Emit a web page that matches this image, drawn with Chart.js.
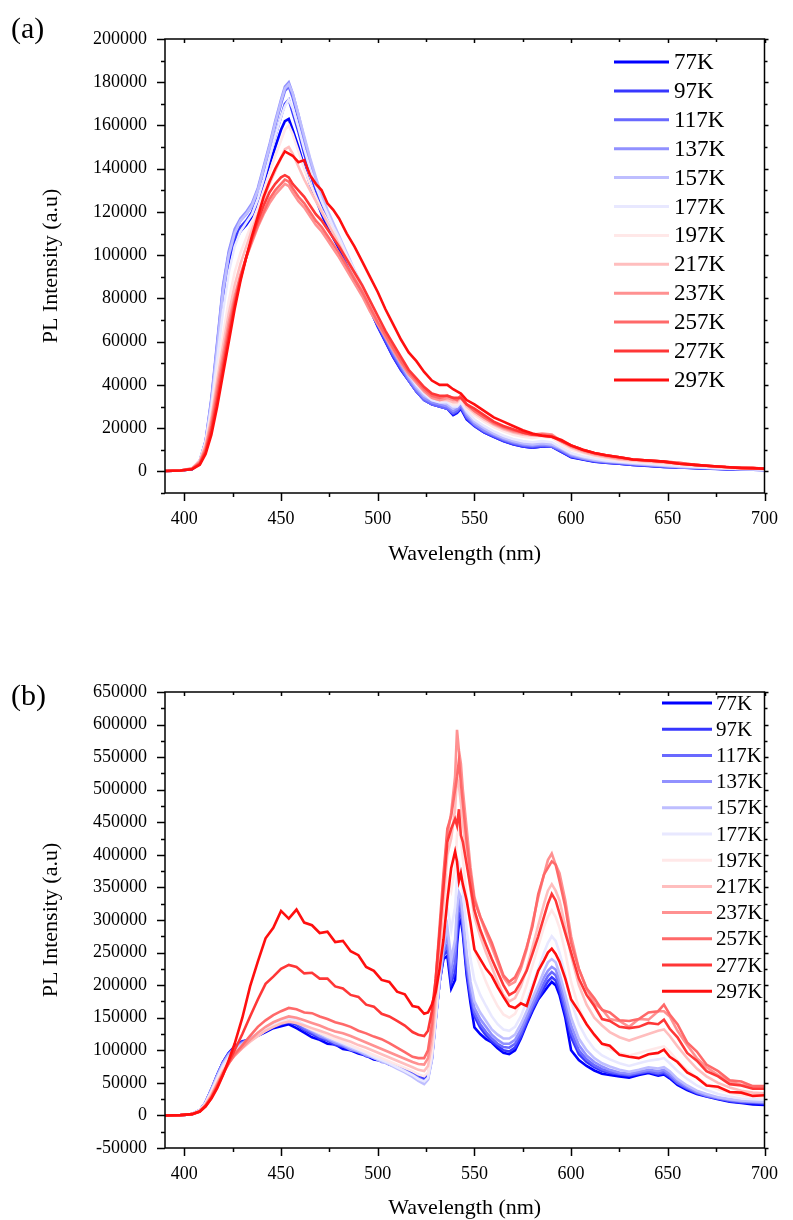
<!DOCTYPE html>
<html>
<head>
<meta charset="utf-8">
<title>PL spectra</title>
<script src="https://cdn.jsdelivr.net/npm/chart.js@4.4.1/dist/chart.umd.min.js"></script>
<style>
    html, body { margin: 0; padding: 0; background: #fff; }
    #page { position: relative; width: 793px; height: 1220px; overflow: hidden; }
    #page canvas { position: absolute; left: 0; }
    .tag { position: absolute; left: 11px; font: 30px/30px "Liberation Serif", "Times New Roman", serif; color: #000; }
</style>
</head>
<body>
<div id="page">
    <canvas id="chartA" width="793" height="610" style="top:0"></canvas>
    <canvas id="chartB" width="793" height="570" style="top:650px"></canvas>
    <div class="tag" style="top:13px">(a)</div>
    <div class="tag" style="top:680px">(b)</div>
</div>
<script>
// legend labels (temperature)
const tempLabels = ['77K', '97K', '117K', '137K', '157K', '177K', '197K', '217K', '237K', '257K', '277K', '297K'];

// x / y tick labels
const xTicks = [400, 450, 500, 550, 600, 650, 700];
const yTicksA = [0, 20000, 40000, 60000, 80000, 100000, 120000, 140000, 160000, 180000, 200000];
const yTicksB = [-50000, 0, 50000, 100000, 150000, 200000, 250000, 300000, 350000, 400000, 450000, 500000, 550000, 600000, 650000];

// ---- panel (a): wavelength (nm) and intensity (x1000 a.u.) ----
const wlA = [
    390, 398, 404, 408, 411, 414, 417, 420, 423, 426, 429, 432,
    435, 438, 441, 444, 447, 450, 452, 454, 456, 459, 462, 465,
    468, 471, 474, 477, 480, 484, 488, 492, 496, 500, 504, 508,
    512, 516, 520, 524, 528, 532, 536, 539, 541, 543, 546, 550,
    555, 560, 565, 570, 575, 580, 585, 590, 595, 600, 606, 612,
    618, 625, 632, 640, 648, 656, 664, 672, 680, 688, 694, 700
];
const a77 = [
    0.2, 0.4, 1, 4, 12, 30, 55, 80, 97, 106, 111, 114,
    118, 124, 133, 142, 150, 158, 162, 163, 158, 150, 141, 133,
    126, 119, 113, 108, 103, 96, 89, 82, 75, 67, 60, 53,
    47, 42, 37, 33, 31, 30, 29, 26, 27, 29, 24, 21,
    18, 16, 14, 12.5, 11.5, 11, 11.5, 11.5, 9, 6.5, 5.5, 4.5,
    4, 3.5, 3, 2.5, 2, 1.8, 1.5, 1.2, 1, 0.8, 0.8, 0.7
];
const a97 = [
    0.2, 0.4, 1.1, 4.5, 13, 32, 57, 83, 99, 108, 113, 116,
    120, 127, 137, 146, 155, 164, 170, 172, 166, 157, 147, 138,
    130, 122, 116, 110, 105, 97, 89, 82, 75, 67, 60, 53,
    47, 42, 37, 33, 31, 30, 29, 26.5, 27.5, 29.5, 24.5, 21,
    18, 16, 14, 12.5, 11.5, 11, 11.5, 11.5, 9, 6.8, 5.6, 4.6,
    4, 3.6, 3, 2.6, 2.1, 1.8, 1.6, 1.3, 1, 0.8, 0.8, 0.7
];
const a117 = [
    0.2, 0.4, 1.2, 5, 14, 33, 59, 85, 101, 111, 116, 119,
    123, 130, 140, 150, 160, 170, 176, 178, 173, 163, 152, 142,
    133, 125, 118, 112, 106, 98, 90, 83, 75, 68, 61, 54,
    48, 42, 37, 33, 31, 30, 29, 27, 28, 30, 25, 21.5,
    18.5, 16.5, 14.5, 13, 12, 11.5, 12, 11.5, 9.5, 7, 5.8, 4.8,
    4.2, 3.8, 3.2, 2.8, 2.3, 1.9, 1.7, 1.4, 1.1, 0.9, 0.9, 0.8
];
const a137 = [
    0.2, 0.4, 1.2, 5, 14, 34, 60, 86, 102, 112, 117, 120,
    124, 131, 141, 151, 162, 172, 178, 180, 175, 165, 154, 144,
    135, 127, 120, 114, 108, 100, 92, 85, 77, 69, 62, 55,
    49, 43, 38, 34, 32, 31, 30, 28, 29, 31, 26, 22,
    19, 17, 15, 13.5, 12.5, 12, 12.5, 12, 10, 7.5, 6, 5,
    4.5, 4, 3.5, 3, 2.5, 2, 1.8, 1.5, 1.2, 1, 1, 0.9
];
const a157 = [
    0.2, 0.4, 1.3, 5, 14, 32, 57, 83, 100, 110, 116, 119,
    123, 130, 140, 150, 161, 171, 177, 179, 175, 165, 155, 145,
    136, 128, 121, 115, 109, 101, 93, 86, 78, 70, 63, 56,
    50, 44, 39, 35, 33, 32, 31, 29, 30, 32, 27, 23,
    20, 17.5, 15.5, 14, 13, 12.5, 13, 12.5, 10.5, 8, 6.5, 5.3,
    4.7, 4.2, 3.6, 3.1, 2.6, 2.1, 1.9, 1.6, 1.3, 1.1, 1, 0.9
];
const a177 = [
    0.2, 0.4, 1.5, 5, 13, 30, 52, 74, 92, 104, 111, 115,
    119, 126, 135, 145, 155, 164, 169, 172, 168, 159, 149, 140,
    132, 125, 119, 113, 108, 100, 93, 86, 78, 71, 64, 57,
    51, 45, 40, 36, 33, 32, 32, 30, 30, 32, 28, 24,
    21, 18.5, 16.5, 15, 14, 13.5, 14, 13.5, 11, 8.5, 7, 6,
    5, 4.5, 4, 3.5, 3, 2.5, 2, 1.7, 1.4, 1.1, 1, 0.9
];
const a197 = [
    0.2, 0.4, 1.5, 5, 13, 27, 46, 63, 79, 92, 101, 108,
    115, 122, 130, 138, 146, 153, 158, 160, 156, 148, 140, 133,
    127, 121, 116, 111, 106, 99, 92, 85, 78, 71, 64, 58,
    52, 46, 41, 37, 34, 33, 33, 31, 31, 33, 29, 26,
    23, 20.5, 18.5, 17, 16, 15.5, 16, 15.5, 12.5, 10, 8.5, 7,
    6, 5, 4.5, 4, 3.5, 3, 2.5, 2, 1.6, 1.3, 1.2, 1
];
const a217 = [
    0.2, 0.4, 1.4, 5, 12, 25, 42, 58, 73, 86, 96, 104,
    112, 119, 126, 133, 139, 145, 149, 150, 147, 141, 135, 130,
    125, 120, 115, 110, 105, 98, 91, 84, 77, 70, 63, 57,
    51, 45, 41, 37, 34, 33, 33, 32, 32, 34, 30, 27,
    24, 21.5, 19.5, 18, 17, 16.5, 17, 16.5, 13.5, 11, 9, 7.5,
    6.5, 5.5, 5, 4.5, 4, 3.5, 2.8, 2.3, 1.8, 1.5, 1.4, 1.1
];
const a237 = [
    0.2, 0.4, 1.3, 4.5, 11, 23, 39, 54, 69, 81, 91, 99,
    106, 113, 119, 124, 128, 131, 133, 132, 129, 125, 122, 118,
    114, 111, 107, 103, 99, 93, 87, 81, 74, 68, 62, 56,
    50, 45, 41, 37, 34, 33, 34, 33, 33, 35, 31, 28,
    25, 22, 20, 18.5, 17.5, 17, 17.5, 17, 14, 11.5, 9.5, 8,
    7, 6, 5.5, 5, 4.5, 4, 3, 2.5, 2, 1.6, 1.5, 1.2
];
const a257 = [
    0.2, 0.4, 1.2, 4, 10, 21, 36, 51, 66, 79, 90, 99,
    107, 114, 120, 126, 130, 133, 135, 134, 131, 127, 124, 120,
    116, 113, 109, 105, 101, 95, 89, 83, 76, 69, 63, 57,
    51, 46, 42, 38, 35, 34, 35, 34, 33, 35, 31, 28,
    25, 22.5, 20.5, 19, 18, 17, 17, 16.5, 14, 12, 10, 8.5,
    7.5, 6.5, 5.5, 5, 4.5, 4, 3, 2.5, 2, 1.7, 1.5, 1.3
];
const a277 = [
    0.2, 0.4, 1.1, 3.5, 9, 19, 33, 48, 63, 77, 89, 99,
    108, 116, 123, 129, 133, 136, 137, 136, 133, 130, 127, 123,
    119, 116, 112, 108, 104, 98, 92, 86, 79, 72, 65, 59,
    53, 47, 43, 39, 36, 35, 35, 34, 34, 34, 31, 29,
    26, 23, 21, 19.5, 18, 17, 16.5, 16, 14, 12, 10, 8.5,
    7.5, 6.5, 5.5, 5, 4.5, 3.5, 3, 2.5, 2, 1.7, 1.5, 1.3
];
const a297 = [
    0.2, 0.4, 1.0, 3, 8, 17, 30, 45, 60, 75, 88, 99,
    109, 118, 127, 134, 140, 145, 148, 147, 146, 143, 144, 137,
    133, 130, 124, 121, 117, 110, 104, 97, 90, 83, 75, 68,
    61, 55, 51, 46, 42, 40, 40, 38, 37, 36, 33, 31,
    28, 25, 23, 21, 19, 17.5, 16.5, 16, 14.5, 12, 10, 8.5,
    7.5, 6.5, 5.5, 5, 4.5, 3.5, 3, 2.5, 2, 1.5, 1.5, 1.2
];

// ---- panel (b): wavelength (nm) and intensity (x1000 a.u.) ----
const wlB = [
    390, 398, 404, 408, 411, 414, 417, 420, 423, 426,
    430, 434, 438, 442, 446, 450, 454, 458, 462, 466,
    470, 474, 478, 482, 486, 490, 494, 498, 502, 506,
    510, 514, 518, 521, 524, 526, 528, 530, 532, 534,
    536, 538, 540, 541, 542, 543, 544, 546, 548, 550,
    553, 556, 559, 562, 565, 568, 571, 574, 577, 580,
    583, 586, 588, 590, 592, 594, 597, 600, 604, 608,
    612, 616, 620, 625, 630, 635, 640, 645, 648, 651,
    655, 660, 665, 670, 676, 682, 688, 694, 700
];
const b77 = [
    0, 0.5, 2, 8, 20, 40, 62, 82, 96, 106,
    114, 116, 122, 128, 134, 137, 140, 134, 127, 120,
    116, 110, 109, 102, 100, 95, 92, 86, 84, 78,
    75, 71, 66, 62, 58, 62, 90, 150, 205, 240,
    245, 195, 208, 262, 295, 300, 280, 215, 172, 135,
    125, 117, 112, 103, 96, 94, 100, 118, 140, 160,
    178, 190, 198, 205, 200, 185, 150, 100, 85, 76,
    69, 64, 62, 60, 58, 62, 65, 61, 63, 57,
    47, 39, 33, 29, 25, 21, 19, 17, 16
];
const b97 = [
    0, 0.5, 2, 8, 20, 40, 62, 82, 96, 105,
    113, 117, 124, 130, 136, 140, 143, 139, 131, 125,
    118, 115, 108, 106, 100, 98, 91, 89, 83, 81,
    76, 71, 65, 60, 56, 60, 88, 149, 205, 245,
    254, 204, 220, 275, 308, 312, 288, 222, 180, 152,
    135, 123, 114, 107, 100, 98, 104, 121, 143, 163,
    180, 196, 206, 212, 207, 192, 157, 120, 94, 82,
    74, 68, 65, 63, 61, 64, 67, 63, 65, 59,
    49, 41, 34, 30, 26, 22, 20, 19, 18
];
const b117 = [
    0, 0.5, 2, 8, 20, 40, 62, 81, 95, 104,
    112, 117, 124, 131, 137, 142, 146, 141, 133, 127,
    121, 116, 111, 106, 102, 97, 93, 88, 84, 80,
    75, 70, 63, 58, 53, 58, 87, 148, 205, 250,
    262, 212, 235, 290, 322, 316, 292, 230, 187, 158,
    140, 128, 118, 110, 105, 104, 110, 126, 147, 166,
    184, 203, 214, 220, 215, 200, 165, 128, 100, 86,
    77, 71, 67, 64, 62, 65, 68, 65, 67, 61,
    50, 42, 35, 30, 26, 23, 21, 20, 19
];
const b137 = [
    0, 0.5, 2, 8, 20, 40, 61, 80, 94, 103,
    111, 117, 125, 132, 138, 144, 149, 144, 136, 129,
    122, 118, 111, 108, 101, 99, 92, 89, 82, 80,
    74, 68, 61, 55, 50, 56, 86, 147, 205, 255,
    275, 225, 255, 305, 332, 325, 300, 240, 195, 165,
    148, 136, 124, 116, 110, 110, 116, 132, 152, 172,
    192, 212, 222, 228, 224, 208, 175, 138, 108, 92,
    82, 75, 70, 66, 64, 67, 70, 68, 70, 64,
    53, 44, 36, 31, 27, 24, 22, 21, 20
];
const b157 = [
    0, 0.5, 2, 8, 20, 39, 60, 79, 93, 102,
    110, 118, 126, 134, 140, 146, 151, 146, 138, 131,
    125, 119, 114, 109, 104, 99, 94, 88, 83, 78,
    72, 66, 59, 53, 48, 55, 85, 145, 205, 260,
    290, 240, 270, 320, 342, 335, 310, 250, 205, 175,
    158, 145, 132, 124, 118, 118, 124, 140, 160, 180,
    200, 222, 235, 240, 235, 218, 185, 150, 118, 100,
    88, 80, 75, 70, 67, 70, 74, 72, 74, 68,
    56, 46, 38, 33, 28, 25, 23, 22, 21
];
const b177 = [
    0, 0.5, 2, 8, 19, 37, 57, 76, 90, 99,
    108, 116, 124, 132, 139, 145, 150, 146, 139, 133,
    127, 121, 116, 111, 106, 101, 96, 90, 85, 80,
    74, 68, 62, 56, 52, 58, 90, 150, 215, 280,
    320, 285, 320, 365, 385, 372, 345, 285, 240, 208,
    185, 168, 152, 140, 132, 130, 136, 152, 175, 200,
    225, 250, 265, 275, 268, 250, 215, 175, 140, 118,
    102, 92, 86, 80, 76, 80, 84, 86, 88, 80,
    68, 56, 46, 39, 33, 29, 26, 25, 24
];
const b197 = [
    0, 0.5, 2, 8, 18, 35, 54, 72, 86, 95,
    105, 114, 122, 130, 137, 142, 146, 143, 137, 132,
    127, 122, 117, 113, 108, 103, 98, 93, 88, 83,
    78, 73, 68, 63, 60, 66, 98, 160, 230, 300,
    365, 345, 380, 430, 445, 425, 395, 335, 290, 255,
    228, 205, 185, 168, 155, 150, 156, 174, 200, 230,
    260, 290, 305, 315, 305, 288, 250, 205, 165, 140,
    122, 110, 102, 96, 92, 96, 100, 104, 106, 98,
    84, 70, 58, 48, 40, 35, 31, 29, 28
];
const b217 = [
    0, 0.5, 2, 7, 17, 32, 50, 68, 82, 92,
    103, 113, 122, 130, 136, 141, 144, 142, 138, 134,
    130, 126, 121, 117, 113, 108, 104, 99, 94, 89,
    84, 79, 74, 70, 68, 76, 110, 175, 250, 330,
    400, 425, 470, 520, 505, 480, 450, 395, 345, 305,
    275, 250, 228, 205, 185, 175, 180, 198, 225, 258,
    292, 325, 345, 355, 345, 330, 290, 245, 200, 170,
    150, 138, 128, 120, 115, 120, 125, 130, 132, 122,
    106, 88, 72, 60, 50, 43, 38, 35, 34
];
const b237 = [
    0, 0.5, 2, 7, 16, 30, 48, 66, 80, 92,
    104, 116, 127, 136, 143, 148, 152, 150, 146, 142,
    138, 133, 129, 126, 122, 117, 112, 107, 102, 97,
    92, 87, 82, 79, 78, 88, 125, 195, 275, 360,
    430, 465, 520, 592, 560, 540, 500, 440, 380, 335,
    305, 280, 258, 235, 212, 200, 205, 225, 255, 295,
    335, 370, 392, 402, 385, 372, 330, 275, 225, 195,
    172, 163, 148, 145, 136, 148, 147, 160, 160, 152,
    130, 108, 88, 74, 62, 52, 47, 44, 42
];
const b257 = [
    0, 0.5, 2, 6, 15, 28, 46, 64, 80, 94,
    108, 122, 136, 146, 154, 160, 165, 163, 158, 157,
    152, 148, 143, 140, 136, 130, 126, 121, 117, 111,
    104, 97, 90, 88, 88, 100, 140, 210, 290, 370,
    440, 460, 500, 520, 545, 510, 480, 420, 370, 330,
    305, 285, 265, 240, 215, 205, 212, 230, 258, 290,
    340, 370, 380, 390, 385, 360, 320, 265, 225, 195,
    180, 162, 158, 146, 145, 148, 158, 160, 170, 155,
    140, 112, 98, 78, 68, 54, 52, 45, 45
];
const b277 = [
    0, 0.5, 2, 6, 14, 27, 44, 63, 82, 100,
    125, 152, 178, 202, 213, 225, 231, 228, 218, 219,
    210, 210, 198, 195, 185, 182, 170, 167, 156, 152,
    145, 138, 128, 124, 122, 130, 160, 210, 280, 350,
    420, 440, 455, 445, 470, 430, 420, 385, 350, 315,
    285, 262, 240, 220, 200, 185, 190, 205, 222, 248,
    275, 305, 325, 340, 330, 310, 280, 250, 210, 185,
    168, 148, 145, 136, 134, 136, 142, 140, 147, 133,
    120, 96, 84, 68, 60, 48, 46, 41, 41
];
const b297 = [
    0, 0.5, 2, 6, 14, 26, 42, 62, 85, 110,
    150, 198, 236, 272, 288, 314, 302, 316, 296, 292,
    280, 282, 266, 268, 252, 246, 228, 222, 208, 205,
    190, 186, 168, 166, 156, 158, 170, 190, 225, 270,
    330, 380, 405, 390, 360, 372, 355, 330, 295, 255,
    240, 225, 214, 197, 182, 168, 165, 172, 168, 195,
    222, 238, 250, 256, 248, 236, 210, 178, 160, 140,
    124, 110, 107, 93, 90, 88, 94, 96, 101, 90,
    82, 66, 58, 46, 44, 36, 35, 30, 31
];

const seriesA = [a77, a97, a117, a137, a157, a177, a197, a217, a237, a257, a277, a297];
const seriesB = [b77, b97, b117, b137, b157, b177, b197, b217, b237, b257, b277, b297];

// blue -> white -> red colour ramp
const lineColors = [
    '#0000ff', '#3737ff', '#6969ff', '#9191ff', '#bebeff', '#e8e8ff',
    '#ffe8e8', '#ffbebe', '#ff9191', '#ff6969', '#ff3737', '#ff0f0f'
];

const FONT = '"Liberation Serif", "Times New Roman", serif';

function buildDatasets(wl, series) {
    return series.map((vals, i) => ({
        label: tempLabels[i],
        data: vals.map((v, j) => ({ x: wl[j], y: v * 1000 })),
        borderColor: lineColors[i],
        backgroundColor: lineColors[i],
        borderWidth: 2.6,
        pointRadius: 0,
        tension: 0,
        order: series.length - 1 - i // 297K on top
    }));
}

// midpoints between major ticks (plus one step outside) inside [min, max]
function minorTicks(major, min, max) {
    const half = (major[1] - major[0]) / 2;
    const out = [];
    [major[0] - half].concat(major.map(v => v + half)).forEach(v => {
        if (v >= min && v <= max) out.push(v);
    });
    return out;
}

// box frame with outward ticks on left/bottom, small ones on top/right
const frameTicks = {
    id: 'frameTicks',
    afterDraw(chart) {
        const { ctx, chartArea: a } = chart;
        const sx = chart.scales.x, sy = chart.scales.y;
        const xMaj = xTicks, xMin = minorTicks(xTicks, sx.min, sx.max);
        const yMaj = sy.ticks.map(t => t.value), yMin = minorTicks(yMaj, sy.min, sy.max);
        ctx.save();
        ctx.strokeStyle = '#000';
        ctx.lineWidth = 1.5;
        ctx.strokeRect(a.left, a.top, a.right - a.left, a.bottom - a.top);
        ctx.beginPath();
        const xt = (v, len, topLen) => {
            const p = Math.round(sx.getPixelForValue(v)) + 0.5;
            ctx.moveTo(p, a.bottom); ctx.lineTo(p, a.bottom + len);
            ctx.moveTo(p, a.top); ctx.lineTo(p, a.top + topLen);
        };
        const yt = (v, len, rightLen) => {
            const p = Math.round(sy.getPixelForValue(v)) + 0.5;
            ctx.moveTo(a.left, p); ctx.lineTo(a.left - len, p);
            ctx.moveTo(a.right, p); ctx.lineTo(a.right + rightLen, p);
        };
        xMaj.forEach(v => xt(v, 8, 4));
        xMin.forEach(v => xt(v, 4, 3));
        yMaj.forEach(v => yt(v, 8, 4));
        yMin.forEach(v => yt(v, 4, 3));
        ctx.stroke();
        ctx.restore();
    }
};

// legend drawn inside the plot, upper right
const insideLegend = {
    id: 'insideLegend',
    afterDraw(chart, args, opts) {
        const ctx = chart.ctx;
        ctx.save();
        ctx.font = opts.fontSize + 'px ' + FONT;
        ctx.textBaseline = 'middle';
        ctx.textAlign = 'left';
        chart.data.datasets.forEach((ds, i) => {
            const yy = opts.top + i * opts.rowGap;
            ctx.strokeStyle = ds.borderColor;
            ctx.lineWidth = 3;
            ctx.beginPath();
            ctx.moveTo(opts.x0, yy);
            ctx.lineTo(opts.x1, yy);
            ctx.stroke();
            ctx.fillStyle = '#000';
            ctx.fillText(ds.label, opts.x1 + opts.gap, yy + 1);
        });
        ctx.restore();
    }
};

function makeChart(canvasId, wl, series, yTicks, yMin, yMax, lay) {
    const el = document.getElementById(canvasId).getContext('2d');
    return new Chart(el, {
        type: 'line',
        data: { datasets: buildDatasets(wl, series) },
        plugins: [frameTicks, insideLegend],
        options: {
            responsive: false,
            animation: false,
            devicePixelRatio: 1,
            layout: { padding: lay.padding },
            plugins: {
                legend: { display: false },
                tooltip: { enabled: false },
                insideLegend: lay.legend
            },
            scales: {
                x: {
                    type: 'linear',
                    min: 390,
                    max: 700,
                    afterBuildTicks: s => { s.ticks = xTicks.map(v => ({ value: v })); },
                    afterFit: s => { s.height = lay.xAxisHeight; },
                    grid: { display: false, drawTicks: false },
                    border: { display: false },
                    ticks: {
                        padding: 15,
                        color: '#000',
                        maxRotation: 0,
                        autoSkip: false,
                        font: { family: FONT, size: 18 },
                        callback: v => String(v)
                    },
                    title: {
                        display: true,
                        text: 'Wavelength (nm)',
                        color: '#000',
                        font: { family: FONT, size: 22, lineHeight: 0.9 },
                        padding: { top: 0, bottom: lay.xTitlePad }
                    }
                },
                y: {
                    type: 'linear',
                    min: yMin,
                    max: yMax,
                    afterBuildTicks: s => { s.ticks = yTicks.map(v => ({ value: v })); },
                    afterFit: s => { s.width = 165; },
                    grid: { display: false, drawTicks: false },
                    border: { display: false },
                    ticks: {
                        padding: 18,
                        color: '#000',
                        autoSkip: false,
                        font: { family: FONT, size: 18 },
                        callback: v => String(v)
                    },
                    title: {
                        display: true,
                        text: 'PL Intensity (a.u)',
                        color: '#000',
                        font: { family: FONT, size: 22, lineHeight: 0.9 },
                        padding: { top: 41, bottom: 0 }
                    }
                }
            }
        }
    });
}

// panel (a)
makeChart('chartA', wlA, seriesA, yTicksA, -10000, 200000, {
    padding: { top: 39, left: 0, right: 18, bottom: 27 },
    xAxisHeight: 90,
    xTitlePad: 19,
    legend: { x0: 614, x1: 669, gap: 5, top: 62, rowGap: 28.9, fontSize: 23 }
});

// panel (b)
makeChart('chartB', wlB, seriesB, yTicksB, -50000, 650000, {
    padding: { top: 42, left: 0, right: 17, bottom: 2 },
    xAxisHeight: 70,
    xTitlePad: 0,
    legend: { x0: 662, x1: 712, gap: 4, top: 53, rowGap: 26.2, fontSize: 21 }
});
</script>
</body>
</html>
